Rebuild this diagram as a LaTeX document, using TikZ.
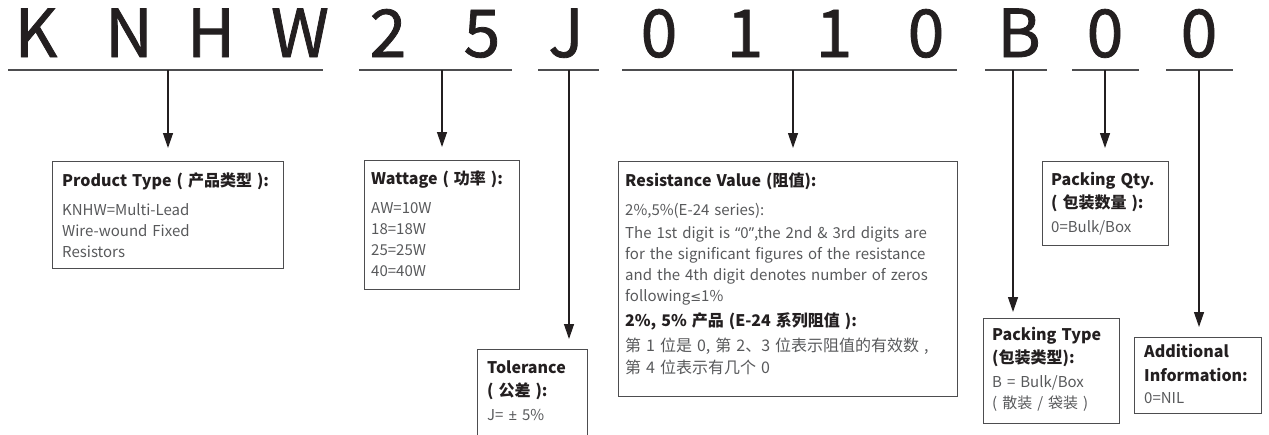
\documentclass[tikz,border=0pt]{standalone}
\usepackage{fontspec}
\setmainfont{Noto Sans CJK SC}
\newfontfamily\bigfont[FakeBold=1.2]{Noto Sans CJK SC}
\newfontfamily\symfont{Noto Sans}
\newfontfamily\relfont{DejaVu Sans}
\usetikzlibrary{arrows.meta}
\definecolor{ink}{HTML}{231F20}
\definecolor{grey}{HTML}{58595B}
\definecolor{rule}{HTML}{4D4D4F}
\newcommand{\hd}[1]{\textcolor{ink}{\fontsize{16}{21}\selectfont\bfseries #1}}
\begin{document}
\begin{tikzpicture}[x=1pt,y=-1pt,
  letter/.style={anchor=base,inner sep=0pt,text=ink,font=\bigfont\fontsize{66}{66}\selectfont},
  bar/.style={draw=rule,line width=1.6pt},
  pointer/.style={draw=ink,line width=1.3pt,-{Triangle[length=15pt,width=10pt]},shorten >=10pt},
  infobox/.style={draw=rule,line width=1pt,anchor=north west,inner sep=0pt},
  boxtext/.style={anchor=base west,inner sep=0pt,text width=340pt,align=left,text=grey,
    font=\fontsize{15}{21}\selectfont}]
\useasboundingbox (0,0) rectangle (1269,434);
\clip (0,0) rectangle (1269,434);
% part number
\foreach \ch/\x [count=\i] in {K/36,N/129,H/211,W/300,2/388,5/482,J/566,
    0/659,1/745,1/834,0/926,B/1019,0/1105,0/1199}
  \node[letter] (c\i) at (\x,57) {\ch};
% underlines and ticks
\foreach \a/\b/\t/\n in {8/323/168/prod,359/512/442/watt,538/599/569/tol,
    622/957/793/res,985/1047/1013/ptype,1072/1139/1105/qty,1166/1233/1199/add}{
  \draw[bar] (\a,70) -- (\b,70);
  \coordinate (t\n) at (\t,70);
}
% boxes
\node[infobox,minimum width=231pt,minimum height=107pt] (prod) at (52,161) {};
\node[infobox,minimum width=155pt,minimum height=129pt] (watt) at (364,160) {};
\node[infobox,minimum width=110pt,minimum height=110pt] (tol) at (477,349) {};
\node[infobox,minimum width=339pt,minimum height=235pt] (res) at (618,161) {};
\node[infobox,minimum width=126pt,minimum height=84pt] (qty) at (1042,161) {};
\node[infobox,minimum width=136pt,minimum height=105pt] (ptype) at (983,318) {};
\node[infobox,minimum width=127pt,minimum height=76pt] (add) at (1134,337) {};
% texts
\node[boxtext] (prodtxt) at (62,186) {\hd{Product Type ( 产品类型 ):}\\[8pt]
  KNHW=Multi-Lead\\Wire-wound Fixed\\Resistors};
\node[boxtext] (watttxt) at (371,184) {\hd{Wattage ( 功率 ):}\\[8pt]
  AW=10W\\18=18W\\25=25W\\40=40W};
\node[boxtext] (toltxt) at (487,373) {\hd{Tolerance}\\[2pt]
  \hd{( 公差 ):}\\[3pt] J= {\symfont±} 5\%};
\node[boxtext] (restxt) at (625,186) {\hd{Resistance Value (阻值):}\\[8pt]
  2\%,5\%(E-24 series):\\[2pt]
  The 1st digit is {\symfont“}0{\symfont”},the 2nd \& 3rd digits are\\
  for the significant figures of the resistance\\
  and the 4th digit denotes number of zeros\\
  following{\relfont\fontsize{13}{21}\selectfont≤}1\%\\[4pt]
  \hd{2\%, 5\% 产品 (E-24 系列阻值 ):}\\[4pt]
  {\fontsize{16}{21}\selectfont 第 1 位是 0, 第 2、3 位表示阻值的有效数 ,}\\[1pt]
  {\fontsize{16}{21}\selectfont 第 4 位表示有几个 0}};
\node[boxtext] (qtytxt) at (1051,185) {\hd{Packing Qty.}\\[2pt]
  \hd{( 包装数量 ):}\\[3pt] 0=Bulk/Box};
\node[boxtext] (ptypetxt) at (992,340) {\hd{Packing Type}\\[2pt]
  \hd{(包装类型):}\\[3pt] B = Bulk/Box\\( 散装 / 袋装 )};
\node[boxtext] (addtxt) at (1144,357) {\hd{Additional}\\[3pt]
  \hd{Information:}\\[1pt] 0=NIL};
% arrows
\foreach \n in {prod,watt,res,qty}
  \draw[pointer,shorten >=13pt] (t\n) -- (t\n |- \n.north);
\draw[pointer] (ttol) -- (ttol |- tol.north);
\draw[pointer,shorten >=6pt] (tptype) -- (tptype |- ptype.north);
\draw[pointer] (tadd) -- (tadd |- add.north);
\end{tikzpicture}
\end{document}
